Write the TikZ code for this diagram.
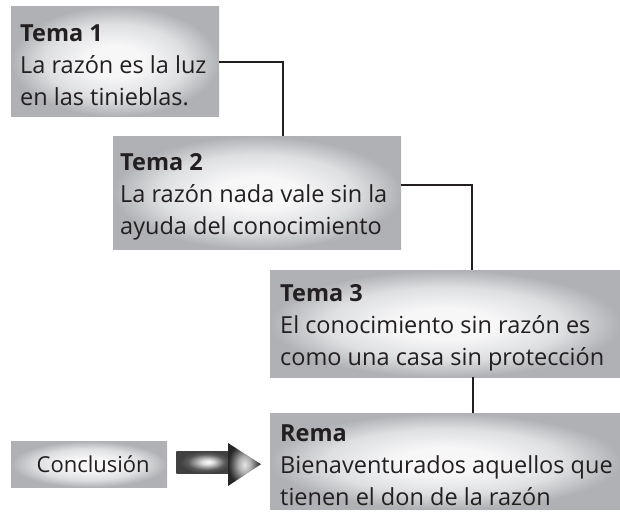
\documentclass[tikz,border=0pt]{standalone}
\usepackage{fontspec}
\setmainfont{Open Sans}
\definecolor{boxin}{RGB}{247,247,248}
\definecolor{boxmid}{RGB}{222,223,225}
\definecolor{boxout}{RGB}{176,177,180}
\definecolor{linecol}{RGB}{35,31,32}
\definecolor{txtcol}{RGB}{35,31,32}
\pgfdeclareradialshading{boxshade}{\pgfpoint{0bp}{0bp}}{color(0bp)=(boxin); color(7bp)=(boxin); color(17bp)=(boxmid); color(25bp)=(boxout); color(50bp)=(boxout)}
\pgfdeclareradialshading{shaftshade}{\pgfpoint{6bp}{0bp}}{color(0bp)=(white); color(6bp)=(gray!30); color(18bp)=(gray!70!black); color(25bp)=(black!75); color(50bp)=(black!75)}
\pgfdeclareradialshading{headshade}{\pgfpoint{0bp}{0bp}}{color(0bp)=(gray!20); color(9bp)=(gray!60); color(20bp)=(black!70); color(25bp)=(black!85); color(50bp)=(black!85)}
\tikzset{
  graybox/.style={shade, shading=boxshade, draw=none, inner sep=0pt, anchor=north west},
  boxtext/.style={anchor=north west, inner sep=0pt, align=left, text=txtcol, font=\fontsize{23.5}{32}\selectfont},
  conn/.style={draw=linecol, line width=2.6pt}
}
\newcommand{\firstline}{\rule{0pt}{20pt}}
\begin{document}
\begin{tikzpicture}[x=1pt,y=-1pt]
\useasboundingbox (0,0) rectangle (620,514);
% boxes
\node[graybox, minimum width=208pt, minimum height=110pt] (b1) at (11,6) {};
\node[graybox, minimum width=288pt, minimum height=113pt] (b2) at (113,136) {};
\node[graybox, minimum width=350pt, minimum height=107pt] (b3) at (270,270) {};
\node[graybox, minimum width=350pt, minimum height=96pt] (b4) at (270,413) {};
\node[graybox, minimum width=156pt, minimum height=46pt] (b5) at (11,441) {};
% texts
\node[boxtext] (t1) at (20,21) {\firstline\textbf{Tema 1}\\La razón es la luz\\en las tinieblas.};
\node[boxtext] (t2) at (120,150) {\firstline\textbf{Tema 2}\\La razón nada vale sin la\\ayuda del conocimiento};
\node[boxtext] (t3) at (280,281) {\firstline\textbf{Tema 3}\\El conocimiento sin razón es\\como una casa sin protección};
\node[boxtext] (t4) at (280,421) {\firstline\textbf{Rema}\\Bienaventurados aquellos que\\tienen el don de la razón};
\node[text=txtcol, font=\fontsize{22}{26}\selectfont, inner sep=0pt] (t5) at ([xshift=4pt]b5.center) {Conclusión};
% connectors
\coordinate (k1) at (283,62);
\coordinate (k2) at (472,185);
\coordinate (k3) at (473,0);
\draw[conn] (b1.east |- k1) -| (b2.north -| k1);
\draw[conn] (b2.east |- k2) -| (b3.north -| k2);
\draw[conn] (b3.south -| k3) -- (b4.north -| k3);
% block arrow from Conclusión to Rema
\coordinate (a0) at ([xshift=9pt]b5.east);
\coordinate (a1) at ([xshift=-9pt]b4.west |- b5.east);
\shade[shading=shaftshade] (a0 |- 0,451) rectangle (228,473);
\shade[shading=headshade] (228,443) -- (a1) -- (228,486) -- cycle;
\end{tikzpicture}
\end{document}
